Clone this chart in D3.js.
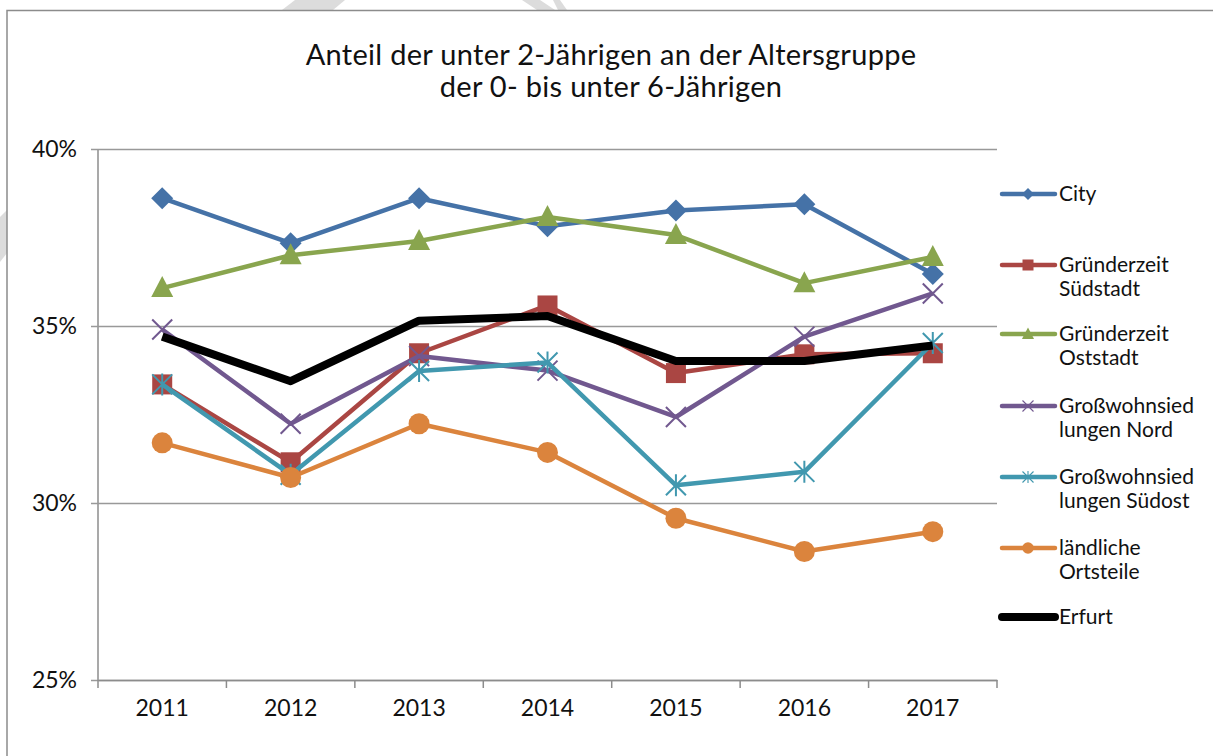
<!DOCTYPE html>
<html>
<head>
<meta charset="utf-8">
<title>Anteil der unter 2-Jährigen</title>
<script src="https://cdn.jsdelivr.net/npm/d3@7"></script>
<style>
	body{ margin:0; background:#fff; }
	text{ font-family: Lato, "Open Sans", sans-serif; fill:#111; }
</style>
</head>
<body>
<div id="chart"></div>
<script>
/* data */
var years = ["2011","2012","2013","2014","2015","2016","2017"];
var city      = [38.61, 37.34, 38.61, 37.82, 38.26, 38.44, 36.47];
var suedstadt = [33.35, 31.15, 34.23, 35.58, 33.67, 34.20, 34.23];
var oststadt  = [36.07, 37.00, 37.40, 38.08, 37.57, 36.21, 36.95];
var nord      = [34.90, 32.24, 34.15, 33.74, 32.43, 34.70, 35.92];
var suedost   = [33.35, 30.80, 33.73, 33.97, 30.50, 30.88, 34.52];
var laendlich = [31.70, 30.72, 32.24, 31.43, 29.57, 28.63, 29.19];
var erfurt    = [34.70, 33.44, 35.15, 35.28, 34.01, 34.01, 34.45];
var y_ticks = [25, 30, 35, 40];

var series = [
	{name:["City"], values:city, color:"#4572a7", mark:"diamond", width:4.5},
	{name:["Gründerzeit","Südstadt"], values:suedstadt, color:"#aa4643", mark:"square", width:4.5},
	{name:["Gründerzeit","Oststadt"], values:oststadt, color:"#89a54e", mark:"triangle", width:4.5},
	{name:["Großwohnsied","lungen Nord"], values:nord, color:"#71588f", mark:"x", width:4.5},
	{name:["Großwohnsied","lungen Südost"], values:suedost, color:"#4198af", mark:"star", width:4.5},
	{name:["ländliche","Ortsteile"], values:laendlich, color:"#db843d", mark:"circle", width:4.5},
	{name:["Erfurt"], values:erfurt, color:"#000000", mark:null, width:8}
];

var w = 1213, h = 756;
var svg = d3.select("#chart").append("svg").attr("width",w).attr("height",h);

/* watermark pieces and frame */
var wm = svg.append("g").attr("fill","#dcdcdc");
wm.append("path").attr("d","M282,10 L295,0 L345,0 L333,10 Z");
wm.append("path").attr("d","M522,0 L540,0 L555,10 L537,10 Z");
wm.append("path").attr("d","M553,0 L560,0 L567,10 L558,10 Z");
wm.append("path").attr("d","M0,217 L7,210 L7,253 L0,262 Z");
svg.append("path").attr("d","M7,756 L7,10.5 L1213,10.5")
	.attr("fill","none").attr("stroke","#8c8c8c").attr("stroke-width",1.5);

/* title */
var title = svg.append("text").attr("text-anchor","middle").attr("font-size",29).attr("letter-spacing",0.3);
title.append("tspan").attr("x",611).attr("y",65).text("Anteil der unter 2-Jährigen an der Altersgruppe");
title.append("tspan").attr("x",611).attr("y",97).text("der 0- bis unter 6-Jährigen");

var p_left = 98, p_right = 997, p_top = 149, p_bottom = 680;
var x_band = d3.scaleBand().domain(years).range([p_left,p_right]);
var x = function(d){ return x_band(d) + x_band.bandwidth()/2; };
var y = d3.scaleLinear().domain([25,40]).range([p_bottom,p_top]);

/* grid + y axis */
var y_axis = d3.axisLeft(y).tickValues(y_ticks).tickSize(-(p_right-p_left))
	.tickFormat(function(d){ return d + "%"; });
svg.append("g").attr("transform","translate("+p_left+",0)").call(y_axis)
	.call(function(g){
		g.select(".domain").attr("stroke","#8c8c8c").attr("stroke-width",1.5).attr("d","M0,"+p_top+"V"+p_bottom);
		g.selectAll(".tick line").attr("stroke","#999").attr("stroke-width",1.5).attr("x1",-7);
		g.selectAll(".tick text").attr("x",-21).attr("font-size",23).attr("fill","#111")
			.style("font-family","Lato, sans-serif");
	});

/* x axis */
var x_axis = d3.axisBottom(x_band).tickSize(0).tickSizeOuter(0);
svg.append("g").attr("transform","translate(0,"+p_bottom+")").call(x_axis)
	.call(function(g){
		g.select(".domain").attr("stroke","#8c8c8c").attr("stroke-width",1.5);
		g.selectAll(".tick text").attr("dy","1.45em").attr("font-size",23).attr("fill","#111")
			.style("font-family","Lato, sans-serif");
	});
/* category separators */
svg.append("g").selectAll("line").data(years.concat([null])).enter().append("line")
	.attr("x1",function(d,i){ return p_left + i*x_band.bandwidth(); })
	.attr("x2",function(d,i){ return p_left + i*x_band.bandwidth(); })
	.attr("y1",p_bottom).attr("y2",p_bottom+8)
	.attr("stroke","#8c8c8c").attr("stroke-width",1.5);

/* marker shapes */
function marker(g, type, color, cx, cy){
	if(type == "diamond"){
		g.append("path").attr("d","M"+cx+","+(cy-11)+"L"+(cx+11)+","+cy+"L"+cx+","+(cy+11)+"L"+(cx-11)+","+cy+"Z").attr("fill",color);
	}else if(type == "square"){
		g.append("rect").attr("x",cx-10).attr("y",cy-10).attr("width",20).attr("height",20).attr("fill",color);
	}else if(type == "triangle"){
		g.append("path").attr("d","M"+cx+","+(cy-12)+"L"+(cx+11)+","+(cy+9)+"L"+(cx-11)+","+(cy+9)+"Z").attr("fill",color);
	}else if(type == "x"){
		g.append("path").attr("d","M"+(cx-10)+","+(cy-10)+"L"+(cx+10)+","+(cy+10)+"M"+(cx+10)+","+(cy-10)+"L"+(cx-10)+","+(cy+10))
			.attr("stroke",color).attr("stroke-width",2);
	}else if(type == "star"){
		g.append("path").attr("d","M"+(cx-10)+","+(cy-10)+"L"+(cx+10)+","+(cy+10)+"M"+(cx+10)+","+(cy-10)+"L"+(cx-10)+","+(cy+10)+"M"+cx+","+(cy-11)+"L"+cx+","+(cy+11))
			.attr("stroke",color).attr("stroke-width",2);
	}else if(type == "circle"){
		g.append("circle").attr("cx",cx).attr("cy",cy).attr("r",10.5).attr("fill",color);
	}
}

var line = d3.line().x(function(d,i){ return x(years[i]); }).y(function(d){ return y(d); });
var plot = svg.append("g");
series.forEach(function(s){
	var g = plot.append("g");
	g.append("path").attr("d",line(s.values)).attr("fill","none")
		.attr("stroke",s.color).attr("stroke-width",s.width).attr("stroke-linejoin","round");
	if(s.mark){
		s.values.forEach(function(v,i){ marker(g, s.mark, s.color, x(years[i]), y(v)); });
	}
});

/* legend */
var leg_y = [194, 265, 334, 406, 477, 548, 617];
var legend = svg.append("g");
series.forEach(function(s,i){
	var g = legend.append("g").attr("transform","translate(1000,"+leg_y[i]+")");
	g.append("line").attr("x1",2).attr("x2",55).attr("y1",0).attr("y2",0)
		.attr("stroke",s.color).attr("stroke-width",s.width).attr("stroke-linecap","round");
	if(s.mark){
		var mg = g.append("g").attr("transform","translate(28,0) scale(0.55) translate(-28,0)");
		marker(mg, s.mark, s.color, 28, 0);
	}
	var t = g.append("text").attr("x",59).attr("y",7).attr("font-size",21);
	s.name.forEach(function(n,k){
		t.append("tspan").attr("x",59).attr("dy",k==0?0:24).text(n);
	});
});
</script>
</body>
</html>
